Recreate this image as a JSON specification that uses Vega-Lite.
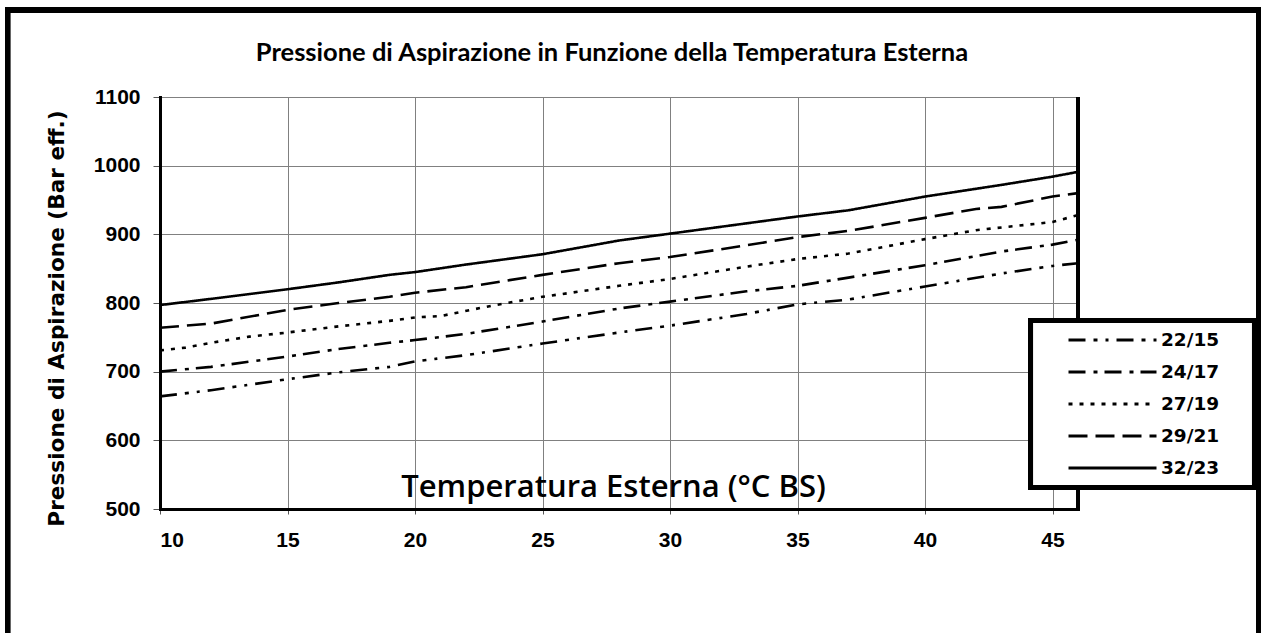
{
  "$schema": "https://vega.github.io/schema/vega-lite/v6.json",
  "width": 918,
  "height": 412,
  "autosize": {"type": "none"},
  "padding": {"left": 160, "top": 97, "right": 183, "bottom": 124},
  "background": "white",
  "title": {
    "text": "Pressione di Aspirazione in Funzione della Temperatura Esterna",
    "font": "Lato",
    "fontSize": 25.5,
    "fontWeight": "bold",
    "color": "black",
    "anchor": "middle",
    "frame": "group",
    "baseline": "alphabetic",
    "offset": -79,
    "dx": -7
  },
  "data": {
    "values": [
      {"serie": "32/23", "t": 10, "p": 797}, {"serie": "32/23", "t": 12, "p": 806}, {"serie": "32/23", "t": 15, "p": 820}, {"serie": "32/23", "t": 17, "p": 830}, {"serie": "32/23", "t": 19, "p": 841}, {"serie": "32/23", "t": 20, "p": 845}, {"serie": "32/23", "t": 22, "p": 856}, {"serie": "32/23", "t": 25, "p": 871}, {"serie": "32/23", "t": 28, "p": 891}, {"serie": "32/23", "t": 30, "p": 901}, {"serie": "32/23", "t": 33, "p": 916}, {"serie": "32/23", "t": 35, "p": 926}, {"serie": "32/23", "t": 37, "p": 935}, {"serie": "32/23", "t": 40, "p": 955}, {"serie": "32/23", "t": 43, "p": 972}, {"serie": "32/23", "t": 45, "p": 984}, {"serie": "32/23", "t": 46, "p": 991},
      {"serie": "29/21", "t": 10, "p": 764}, {"serie": "29/21", "t": 12, "p": 770}, {"serie": "29/21", "t": 15, "p": 790}, {"serie": "29/21", "t": 17, "p": 800}, {"serie": "29/21", "t": 19, "p": 809}, {"serie": "29/21", "t": 20, "p": 815}, {"serie": "29/21", "t": 22, "p": 823}, {"serie": "29/21", "t": 25, "p": 841}, {"serie": "29/21", "t": 28, "p": 858}, {"serie": "29/21", "t": 30, "p": 867}, {"serie": "29/21", "t": 33, "p": 884}, {"serie": "29/21", "t": 35, "p": 896}, {"serie": "29/21", "t": 37, "p": 905}, {"serie": "29/21", "t": 40, "p": 924}, {"serie": "29/21", "t": 42, "p": 937}, {"serie": "29/21", "t": 43, "p": 940}, {"serie": "29/21", "t": 45, "p": 955}, {"serie": "29/21", "t": 46, "p": 960},
      {"serie": "27/19", "t": 10, "p": 731}, {"serie": "27/19", "t": 11, "p": 735}, {"serie": "27/19", "t": 12, "p": 742}, {"serie": "27/19", "t": 13.5, "p": 751}, {"serie": "27/19", "t": 15, "p": 757}, {"serie": "27/19", "t": 17, "p": 766}, {"serie": "27/19", "t": 19, "p": 774}, {"serie": "27/19", "t": 20, "p": 779}, {"serie": "27/19", "t": 21, "p": 781}, {"serie": "27/19", "t": 23, "p": 796}, {"serie": "27/19", "t": 25, "p": 809}, {"serie": "27/19", "t": 28, "p": 825}, {"serie": "27/19", "t": 30, "p": 835}, {"serie": "27/19", "t": 33, "p": 853}, {"serie": "27/19", "t": 35, "p": 864}, {"serie": "27/19", "t": 37, "p": 872}, {"serie": "27/19", "t": 40, "p": 893}, {"serie": "27/19", "t": 42, "p": 906}, {"serie": "27/19", "t": 45, "p": 918}, {"serie": "27/19", "t": 46, "p": 928},
      {"serie": "24/17", "t": 10, "p": 700}, {"serie": "24/17", "t": 12, "p": 707}, {"serie": "24/17", "t": 15, "p": 722}, {"serie": "24/17", "t": 17, "p": 733}, {"serie": "24/17", "t": 19, "p": 742}, {"serie": "24/17", "t": 20, "p": 746}, {"serie": "24/17", "t": 22, "p": 755}, {"serie": "24/17", "t": 25, "p": 773}, {"serie": "24/17", "t": 28, "p": 792}, {"serie": "24/17", "t": 30, "p": 802}, {"serie": "24/17", "t": 33, "p": 817}, {"serie": "24/17", "t": 35, "p": 825}, {"serie": "24/17", "t": 37, "p": 837}, {"serie": "24/17", "t": 40, "p": 855}, {"serie": "24/17", "t": 43, "p": 875}, {"serie": "24/17", "t": 45, "p": 885}, {"serie": "24/17", "t": 46, "p": 892},
      {"serie": "22/15", "t": 10, "p": 664}, {"serie": "22/15", "t": 12, "p": 673}, {"serie": "22/15", "t": 15, "p": 689}, {"serie": "22/15", "t": 17, "p": 699}, {"serie": "22/15", "t": 19, "p": 707}, {"serie": "22/15", "t": 20, "p": 715}, {"serie": "22/15", "t": 22, "p": 724}, {"serie": "22/15", "t": 25, "p": 741}, {"serie": "22/15", "t": 28, "p": 757}, {"serie": "22/15", "t": 30, "p": 767}, {"serie": "22/15", "t": 33, "p": 784}, {"serie": "22/15", "t": 35, "p": 798}, {"serie": "22/15", "t": 37, "p": 805}, {"serie": "22/15", "t": 40, "p": 824}, {"serie": "22/15", "t": 43, "p": 843}, {"serie": "22/15", "t": 45, "p": 854}, {"serie": "22/15", "t": 46, "p": 858}
    ]
  },
  "layer": [
    {
      "mark": {"type": "line", "strokeWidth": 2.6, "color": "black", "strokeCap": "butt"},
      "encoding": {
        "x": {
          "field": "t", "type": "quantitative",
          "scale": {"domain": [10, 46], "nice": false, "zero": false},
          "axis": {
            "title": "Temperatura Esterna (°C BS)",
            "values": [10, 15, 20, 25, 30, 35, 40, 45],
            "format": "d",
            "titleX": 453, "titleY": -22, "titleAlign": "center", "titleAnchor": null, "titleBaseline": "middle",
            "titleFont": "Open Sans", "titleFontSize": 31, "titleFontWeight": 600, "titleColor": "black",
            "labelFont": "Liberation Sans", "labelFontSize": 21, "labelFontWeight": "bold", "labelColor": "black",
            "tickSize": 5, "labelPadding": 15, "tickColor": "#555",
            "domainColor": "black", "domainWidth": 3,
            "grid": true, "gridColor": "#808080", "gridWidth": 1
          }
        },
        "y": {
          "field": "p", "type": "quantitative",
          "scale": {"domain": [500, 1100], "nice": false, "zero": false},
          "axis": {
            "title": "Pressione di Aspirazione (Bar eff.)",
            "values": [500, 600, 700, 800, 900, 1000, 1100],
            "format": "d",
            "titleX": -97, "titleY": 221, "titleAngle": -90, "titleAlign": "center", "titleAnchor": null, "titleBaseline": "alphabetic",
            "titleFont": "DejaVu Sans", "titleFontSize": 21.6, "titleFontWeight": "bold", "titleColor": "black",
            "labelFont": "Liberation Sans", "labelFontSize": 21, "labelFontWeight": "bold", "labelColor": "black",
            "tickSize": 7, "labelPadding": 13, "tickColor": "#555",
            "domainColor": "black", "domainWidth": 3,
            "grid": true, "gridColor": "#808080", "gridWidth": 1
          }
        },
        "strokeDash": {
          "field": "serie", "type": "nominal",
          "scale": {
            "domain": ["22/15", "24/17", "27/19", "29/21", "32/23"],
            "range": [[17, 8, 4, 8, 3, 8], [17, 8, 4, 7], [4, 7], [19, 8], [1, 0]]
          },
          "legend": {
            "orient": "none", "legendX": 870, "legendY": 223,
            "title": null, "direction": "vertical",
            "symbolType": "stroke", "symbolSize": 7744, "symbolStrokeWidth": 3, "symbolStrokeColor": "black",
            "clipHeight": 20, "rowPadding": 12,
            "symbolOffset": 27, "labelOffset": 3,
            "labelFont": "DejaVu Sans", "labelFontSize": 18.5, "labelFontWeight": "bold", "labelColor": "black",
            "labelLimit": 0,
            "padding": 10, "strokeColor": null, "fillColor": null
          }
        }
      }
    },
    {
      "mark": {"type": "rule", "color": "black", "strokeWidth": 3},
      "encoding": {"x": {"datum": 46}, "y": {"datum": 500}, "y2": {"datum": 1100}}
    },
    {
      "mark": {"type": "rect", "fill": "white", "stroke": "black", "strokeWidth": 5, "clip": false},
      "encoding": {"x": {"datum": 44.14}, "x2": {"datum": 52.92}, "y": {"datum": 774.5}, "y2": {"datum": 531.3}}
    },
    {
      "mark": {"type": "rect", "fillOpacity": 0, "stroke": "black", "strokeWidth": 5, "clip": false},
      "encoding": {"x": {"datum": 4.02}, "x2": {"datum": 53.1}, "y": {"datum": 1227}, "y2": {"datum": 250}}
    }
  ],
  "config": {
    "view": {"stroke": "#555", "strokeWidth": 1},
    "axis": {"gridDash": [], "domainCap": "square"}
  }
}
